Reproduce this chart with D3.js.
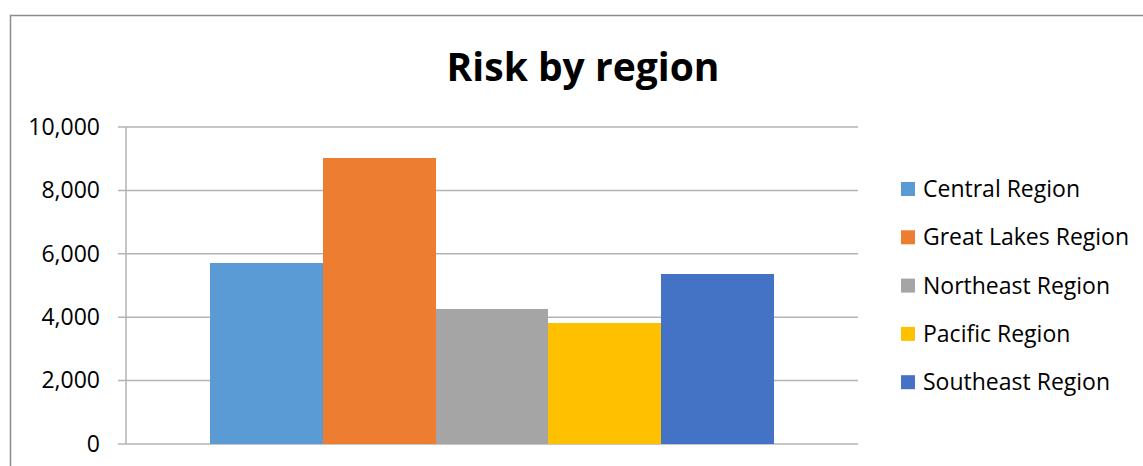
<!DOCTYPE html>
<html>
<head>
<meta charset="utf-8">
<script src="https://cdn.jsdelivr.net/npm/d3@7"></script>
<style>
  html, body { margin: 0; padding: 0; background: #fff; }
</style>
</head>
<body>
<div id="chart"></div>
<script>
const regions = ["Central Region", "Great Lakes Region", "Northeast Region", "Pacific Region", "Southeast Region"];
const risk = [5710, 9020, 4260, 3820, 5370];
const colors = ["#5B9BD5", "#ED7D31", "#A5A5A5", "#FFC000", "#4472C4"];
const yTicks = [0, 2000, 4000, 6000, 8000, 10000];

const width = 1143, height = 466;
const font = "'Open Sans', sans-serif";

var dims = {
    left: 126,
    right: 858,
    top: 127,
    bottom: 444
}

const svg = d3.select('#chart').append('svg')
    .attr('width', width)
    .attr('height', height)
    .style('font-family', font);

// chart frame
svg.append('rect')
    .attr('x', 10.5).attr('y', 15.5)
    .attr('width', 1160).attr('height', 500)
    .attr('fill', 'none')
    .attr('stroke', '#8c8c8c')
    .attr('stroke-width', 1.5);

svg.append('text')
    .attr('x', 583)
    .attr('y', 81)
    .attr('text-anchor', 'middle')
    .style('font-size', '39px')
    .style('font-weight', 'bold')
    .style('fill', '#000')
    .text('Risk by region');

const y = d3.scaleLinear().domain([0, 10000]).range([dims.bottom, dims.top]);

// one category group, bars side by side
const group = d3.scaleBand().domain(['all']).range([dims.left, dims.right]).paddingInner(0).paddingOuter(0.149);
const x = d3.scaleBand().domain(regions).range([group('all'), group('all') + group.bandwidth()]);

// gridlines
svg.append('g')
    .selectAll('line')
    .data(yTicks)
    .enter()
    .append('line')
    .attr('x1', dims.left - 8)
    .attr('x2', dims.right)
    .attr('y1', d => y(d))
    .attr('y2', d => y(d))
    .attr('stroke', '#b3b3b3')
    .attr('stroke-width', 1.5);

svg.append('line')
    .attr('x1', dims.left).attr('x2', dims.left)
    .attr('y1', dims.top).attr('y2', dims.bottom)
    .attr('stroke', '#b3b3b3')
    .attr('stroke-width', 1.5);

const yAxis = d3.axisLeft(y)
    .tickValues(yTicks)
    .tickFormat(d3.format(','))
    .tickSize(0)
    .tickPadding(26);

const axisG = svg.append('g')
    .attr('transform', `translate(${dims.left},0)`)
    .call(yAxis);
axisG.select('.domain').remove();
axisG.selectAll('text')
    .style('font-family', font)
    .style('font-size', '23px')
    .style('fill', '#000');

svg.append('g')
    .attr('shape-rendering', 'crispEdges')
    .selectAll('rect')
    .data(risk)
    .enter()
    .append('rect')
    .attr('x', (d, i) => Math.round(x(regions[i])))
    .attr('y', d => y(d))
    .attr('width', (d, i) => Math.round(x(regions[i]) + x.bandwidth()) - Math.round(x(regions[i])))
    .attr('height', d => y(0) - y(d))
    .attr('fill', (d, i) => colors[i]);

// Legend
var legend = svg.append('g')
    .attr('transform', 'translate(901,189)')
    .selectAll('.legend')
    .data(regions)
    .enter()
    .append('g')
    .attr('class', 'legend')
    .attr('transform', (d, i) => 'translate(0,' + i * 48.3 + ')');

legend.append('rect')
    .attr('y', -7)
    .attr('width', 14)
    .attr('height', 14)
    .style('fill', (d, i) => colors[i]);

legend.append('text')
    .attr('x', 22)
    .attr('y', 0)
    .attr('dy', '0.35em')
    .style('font-size', '23px')
    .style('fill', '#000')
    .text(d => d);
</script>
</body>
</html>
